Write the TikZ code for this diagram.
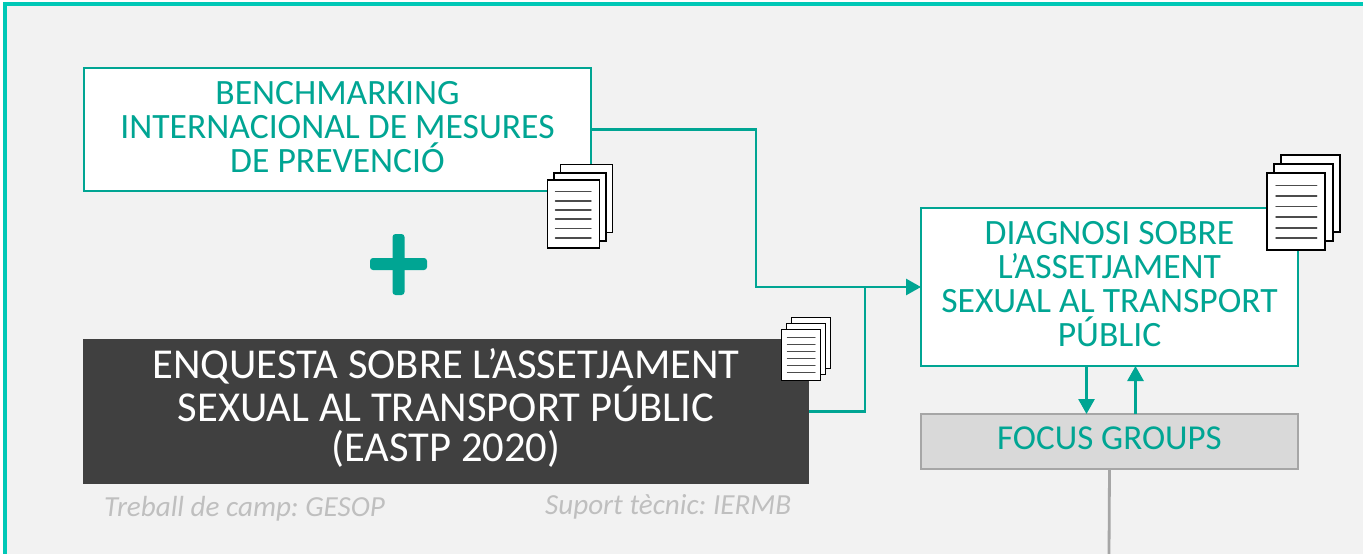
\documentclass[tikz,border=0pt]{standalone}
\usepackage{fontspec}
\setmainfont{Carlito}
\usetikzlibrary{arrows.meta}
\definecolor{teal1}{HTML}{00A593}
\definecolor{frame1}{HTML}{00C8B6}
\definecolor{bg1}{HTML}{F2F2F2}
\definecolor{dark1}{HTML}{404040}
\definecolor{gray1}{HTML}{D9D9D9}
\definecolor{gray2}{HTML}{A6A6A6}
\definecolor{gray3}{HTML}{BFBFBF}
\tikzset{
  x=1pt,y=-1pt,
  whitebox/.style={draw=teal1,line width=2pt,fill=white,text=teal1,align=center,inner sep=0pt,outer sep=0pt,text depth=6pt,font=\fontsize{35.6}{34}\selectfont},
  darkbox/.style={fill=dark1,text=white,align=center,inner sep=0pt,outer sep=0pt,text depth=12.5pt,font=\fontsize{42.6}{40.5}\selectfont},
  fgbox/.style={draw=gray2,line width=2pt,fill=gray1,text=teal1,align=center,inner sep=0pt,outer sep=0pt,text depth=6pt,font=\fontsize{35}{34}\selectfont},
  note/.style={text=gray3,inner sep=0pt,font=\frenchspacing\fontsize{29.1}{30}\selectfont\itshape},
  conn/.style={draw=teal1,line width=2.8pt},
  arr/.style={conn,-{Triangle[length=15pt,width=16pt]}},
  greyline/.style={draw=gray2,line width=2.8pt},
  page/.style={draw=black,fill=white},
  rule/.style={draw=black!70,line cap=round},
}
\newcommand{\stackicon}[9]{%
  % #1 w, #2 h, #3 back x, #4 back y, #5 mid x, #6 mid y, #7 front x, #8 front y, #9 line width
  \draw[page,line width=#9pt] (#3,#4) rectangle ++(#1,#2);
  \draw[page,line width=#9pt] (#5,#6) rectangle ++(#1,#2);
  \draw[page,line width=#9pt] (#7,#8) rectangle ++(#1,#2);
}
\begin{document}
\begin{tikzpicture}
\useasboundingbox (0,0) rectangle (1363,554);
\fill[white] (0,0) rectangle (1363,554);
\fill[frame1] (3,2) rectangle (1363,554);
\fill[bg1] (7,6) rectangle (1363,554);

\node[whitebox,minimum width=507pt,minimum height=123pt] (bench) at (337.5,129.5)
  {BENCHMARKING\\INTERNACIONAL DE MESURES\\DE PREVENCIÓ};
\node[darkbox,minimum width=726pt,minimum height=145pt] (enq) at (446,411.5)
  {ENQUESTA SOBRE L’ASSETJAMENT\\SEXUAL AL TRANSPORT PÚBLIC\\(EASTP 2020)};
\node[whitebox,minimum width=377pt,minimum height=158pt] (diag) at (1109.5,287)
  {DIAGNOSI SOBRE\\L’ASSETJAMENT\\SEXUAL AL TRANSPORT\\PÚBLIC};
\node[fgbox,minimum width=377pt,minimum height=55pt] (focus) at (1109.5,441.5) {FOCUS GROUPS};

\node[note,anchor=west] (camp) at (104,509) {Treball de camp: GESOP};
\node[note,anchor=west] (sup) at (545,507) {Suport tècnic: IERMB};

% connectors
\coordinate (m1) at (756,129.5);
\coordinate (m2) at (756,287);
\coordinate (m3) at (865,411.5);
\coordinate (m4) at (865,287);
\draw[arr] (bench.east) -- (m1) -- (m2) -- (diag.west);
\draw[conn] (enq.east) -- (m3) -- (m4);
\coordinate (dn1) at (1086.5,366);
\coordinate (dn2) at (1086.5,414);
\coordinate (up1) at (1135.5,414);
\coordinate (up2) at (1135.5,366);
\draw[arr] (dn1) -- (dn2);
\draw[arr] (up1) -- (up2);
\coordinate (gl) at (1109,554);
\draw[greyline] (focus.south) -- (gl);

% plus sign
\fill[teal1,rounded corners=3pt] (370,258) rectangle (427,270);
\fill[teal1,rounded corners=3pt] (392.5,234) rectangle (404.5,295);

% document icons
\stackicon{52}{68}{560.5}{164.5}{554}{173}{547.5}{180}{1.7}
\foreach \y in {191.7,201,210,219,228.5,238}
  \draw[rule,line width=1.4pt] (555.5,\y) -- (591,\y);
\stackicon{39}{51}{791.5}{317.5}{786.5}{323.5}{781.7}{329.3}{1.4}
\foreach \y in {337.7,344.7,351.7,358.7,365.7,372.7}
  \draw[rule,line width=1.2pt] (787.5,\y) -- (815,\y);
\stackicon{58.5}{77.2}{1281.3}{155}{1274.3}{164}{1266.7}{172.7}{2}
\foreach \y in {185.3,196,206.3,217,228,238}
  \draw[rule,line width=1.5pt] (1276,\y) -- (1316.7,\y);
\end{tikzpicture}
\end{document}
